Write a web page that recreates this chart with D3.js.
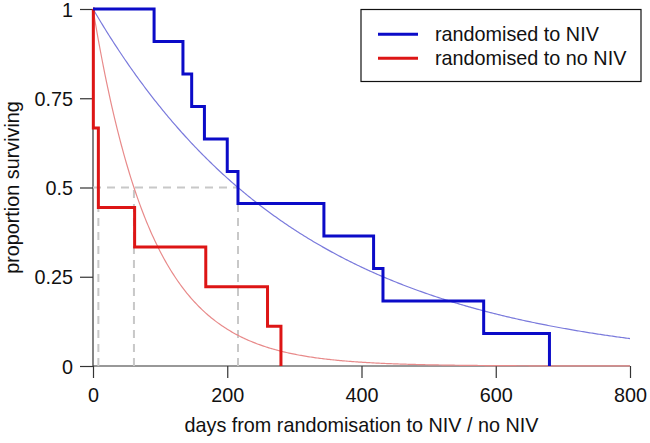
<!DOCTYPE html>
<html>
<head>
<meta charset="utf-8">
<script src="https://cdn.jsdelivr.net/npm/d3@7"></script>
<style>
  html, body { margin: 0; padding: 0; background: #fff; }
  svg { display: block; font-family: "Liberation Sans", Arial, Helvetica, sans-serif; }
</style>
</head>
<body>
<svg id="chart" width="650" height="443"></svg>
<script>
// ---- data ----
const seriesNames = ["randomised to NIV", "randomised to no NIV"];
const seriesColors = ["#0b0bc8", "#dd1515"];
const curveColors = ["#7a7adc", "#e88a8a"];

// Kaplan–Meier step data (time of each drop, survival after drop)
const nivTimes = [0, 91, 134, 147, 166, 200, 216, 344, 418, 432, 582, 680];
const nivSurv  = [1, 0.909, 0.818, 0.727, 0.636, 0.545, 0.455, 0.364, 0.273, 0.182, 0.091, 0];
const noNivTimes = [0, 0.5, 8, 62, 168, 260, 280];
const noNivSurv  = [1, 0.667, 0.444, 0.333, 0.222, 0.111, 0];

// fitted exponential models, given by their median survival (days)
const expMedians = [216, 61];
const curveEnd = 800;

// dashed median markers (days)
const medianMarks = [8, 61, 216];

const xTicks = [0, 200, 400, 600, 800];
const yTicks = [0, 0.25, 0.5, 0.75, 1];
const yTickLabels = ["0", "0.25", "0.5", "0.75", "1"];
const xTitle = "days from randomisation to NIV / no NIV";
const yTitle = "proportion surviving";

// ---- drawing ----
const svg = d3.select("#chart");
const x = d3.scaleLinear().domain([0, 800]).range([93, 630]);
const y = d3.scaleLinear().domain([0, 1]).range([366, 9]);
const fontSize = "19.8px";
const axisColor = "#333";

// axes
const xAxis = d3.axisBottom(x).tickValues(xTicks).tickSize(12).tickPadding(10).tickFormat(d3.format("d"));
const gx = svg.append("g").attr("transform", `translate(0,${y(0)})`).call(xAxis);
const yAxis = d3.axisLeft(y).tickValues(yTicks).tickSize(13).tickPadding(7).tickFormat((d, i) => yTickLabels[i]);
const gy = svg.append("g").attr("transform", `translate(${x(0)},0)`).call(yAxis);
[gx, gy].forEach(g => {
  g.select(".domain").attr("stroke", axisColor).attr("stroke-width", 1.2)
    .attr("d", g === gx ? `M${x(0)},0H${x(800)}` : `M0,${y(0)}V${y(1)}`);
  g.selectAll(".tick line").attr("stroke", axisColor).attr("stroke-width", 1.2);
  g.selectAll(".tick text").attr("fill", "#111").style("font-size", fontSize)
    .style("font-family", '"Liberation Sans", Arial, sans-serif');
});
gy.selectAll(".tick text").attr("dy", "0.36em");

// axis titles
svg.append("text").attr("x", (x(0) + x(800)) / 2).attr("y", 432)
  .attr("text-anchor", "middle").style("font-size", fontSize).attr("fill", "#111").text(xTitle);
svg.append("text").attr("transform", `translate(19,${(y(0) + y(1)) / 2}) rotate(-90)`)
  .attr("text-anchor", "middle").style("font-size", fontSize).attr("fill", "#111").text(yTitle);

// dashed median markers
const dash = svg.append("g").attr("stroke", "#c8c8c8").attr("stroke-width", 2)
  .attr("stroke-dasharray", "8,6").attr("fill", "none");
dash.append("line").attr("x1", x(0)).attr("x2", x(d3.max(medianMarks)))
  .attr("y1", y(0.5)).attr("y2", y(0.5));
medianMarks.forEach(m => {
  dash.append("line").attr("x1", x(m)).attr("x2", x(m)).attr("y1", y(0)).attr("y2", y(0.5));
});

// fitted exponential curves
expMedians.forEach((med, i) => {
  const rate = Math.LN2 / med;
  const pts = d3.range(0, curveEnd + 1, 2).map(t => [t, Math.exp(-rate * t)]);
  svg.append("path").datum(pts)
    .attr("d", d3.line().x(d => x(d[0])).y(d => y(d[1])))
    .attr("fill", "none").attr("stroke", curveColors[i]).attr("stroke-width", 1.2);
});

// Kaplan–Meier steps
function kmPoints(times, surv) {
  return times.map((t, i) => [t, surv[i]]);
}
const km = [kmPoints(nivTimes, nivSurv), kmPoints(noNivTimes, noNivSurv)];
const stepLine = d3.line().x(d => x(d[0])).y(d => y(d[1])).curve(d3.curveStepAfter);
[1, 0].forEach(i => {
  svg.append("path").datum(km[i]).attr("d", stepLine)
    .attr("fill", "none").attr("stroke", seriesColors[i]).attr("stroke-width", 3)
    .attr("stroke-linejoin", "miter");
});

// legend
const lg = svg.append("g");
lg.append("rect").attr("x", 361).attr("y", 9.5).attr("width", 280).attr("height", 72)
  .attr("fill", "#fff").attr("stroke", "#111").attr("stroke-width", 1.2);
seriesNames.forEach((name, i) => {
  const cy = 34.3 + i * 24;
  lg.append("line").attr("x1", 378).attr("x2", 418).attr("y1", cy).attr("y2", cy)
    .attr("stroke", seriesColors[i]).attr("stroke-width", 3);
  lg.append("text").attr("x", 435).attr("y", cy).attr("dy", "0.36em")
    .style("font-size", fontSize).attr("fill", "#111").text(name);
});
</script>
</body>
</html>
